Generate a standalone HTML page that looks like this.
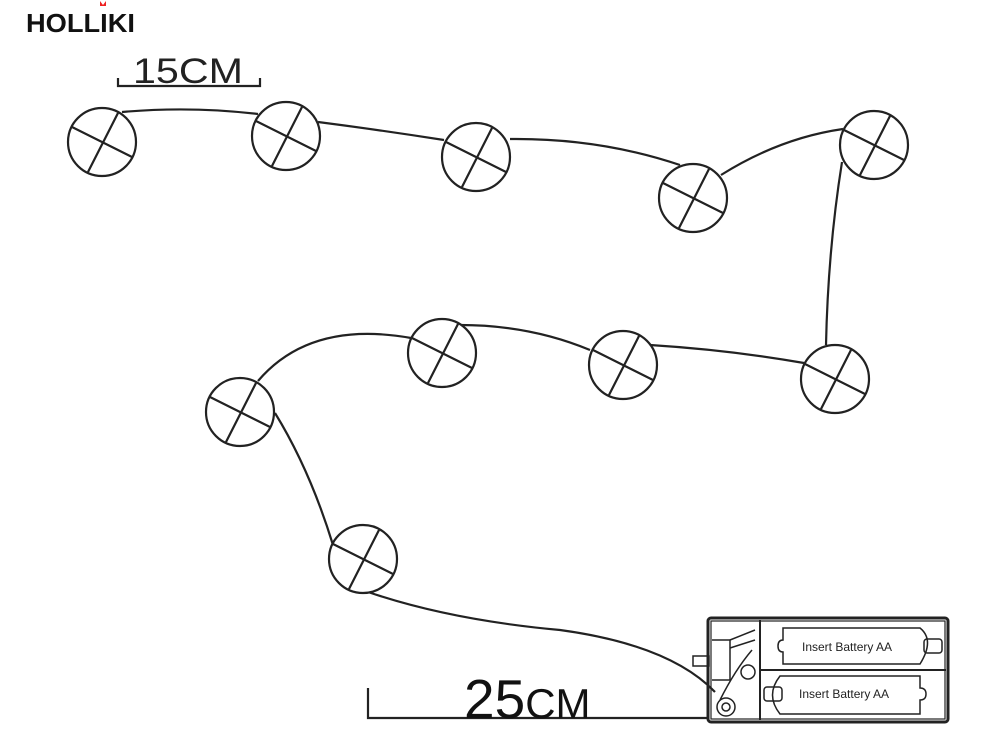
<!DOCTYPE html>
<html><head><meta charset="utf-8"><style>
html,body{margin:0;padding:0;background:#fff;}
svg{display:block;}
</style></head><body>
<svg width="1000" height="752" viewBox="0 0 1000 752" xmlns="http://www.w3.org/2000/svg" font-family="Liberation Sans, sans-serif">
<rect width="1000" height="752" fill="#fff"/>
<text x="26" y="32" font-size="26" font-weight="bold" fill="#111" textLength="109" lengthAdjust="spacingAndGlyphs">HOLLIKI</text>
<path d="M100 1 l3 4 l3 -4 v5 h-6z" fill="#e22"/>
<g stroke="#222" stroke-width="2.2" fill="none">
<path d="M118 78 V86 H260 V78"/>
<path d="M368 688 V718 H708"/>
<path d="M122 112 Q190 106 258 114"/>
<path d="M318 122 Q380 130 444 140"/>
<path d="M510 139 Q600 138 680 165"/>
<path d="M721 175 Q780 138 843 129"/>
<path d="M842 162 Q828 250 826 345"/>
<path d="M804 363 Q730 350 650 345"/>
<path d="M590 350 Q530 325 460 325"/>
<path d="M411 338 Q310 320 258 381"/>
<path d="M275 413 Q310 470 333 545"/>
<path d="M368 592 Q450 620 560 630 Q670 645 715 692"/>
</g>
<g stroke="#222" stroke-width="2.2" fill="#fff">
<g transform="translate(102,142)"><circle r="34"/><path d="M-30 -15 L30 15 M16 -29 L-14 30"/></g>
<g transform="translate(286,136)"><circle r="34"/><path d="M-30 -15 L30 15 M16 -29 L-14 30"/></g>
<g transform="translate(476,157)"><circle r="34"/><path d="M-30 -15 L30 15 M16 -29 L-14 30"/></g>
<g transform="translate(693,198)"><circle r="34"/><path d="M-30 -15 L30 15 M16 -29 L-14 30"/></g>
<g transform="translate(874,145)"><circle r="34"/><path d="M-30 -15 L30 15 M16 -29 L-14 30"/></g>
<g transform="translate(835,379)"><circle r="34"/><path d="M-30 -15 L30 15 M16 -29 L-14 30"/></g>
<g transform="translate(623,365)"><circle r="34"/><path d="M-30 -15 L30 15 M16 -29 L-14 30"/></g>
<g transform="translate(442,353)"><circle r="34"/><path d="M-30 -15 L30 15 M16 -29 L-14 30"/></g>
<g transform="translate(240,412)"><circle r="34"/><path d="M-30 -15 L30 15 M16 -29 L-14 30"/></g>
<g transform="translate(363,559)"><circle r="34"/><path d="M-30 -15 L30 15 M16 -29 L-14 30"/></g>
</g>
<text x="133" y="83" font-size="35" fill="#222" textLength="110" lengthAdjust="spacingAndGlyphs">15CM</text>
<text x="464" y="718" font-size="55" fill="#111">25<tspan font-size="42">CM</tspan></text>
<g stroke="#222" fill="none">
<rect x="708" y="618" width="240" height="104" rx="3" stroke-width="3"/>
<rect x="711" y="621" width="234" height="98" stroke-width="1.2"/>
<line x1="760" y1="620" x2="760" y2="720" stroke-width="2"/>
<line x1="760" y1="670" x2="946" y2="670" stroke-width="2"/>
<path d="M783 628 H920 Q935 640 920 664 H783 V652 Q778 652 778 646 Q778 640 783 640 Z" stroke-width="1.5"/>
<path d="M780 676 H920 V688 Q926 688 926 694 Q926 700 920 700 V714 H780 Q765 695 780 676 Z" stroke-width="1.5"/>
<rect x="924" y="639" width="18" height="14" rx="3" stroke-width="1.5"/>
<rect x="764" y="687" width="18" height="14" rx="3" stroke-width="1.5"/>
<rect x="693" y="656" width="16" height="10" stroke-width="1.5"/>
<path d="M712 640 H730 V680 H712" stroke-width="1.5"/>
<path d="M730 640 L755 630 M730 648 L755 640" stroke-width="1.5"/>
<circle cx="748" cy="672" r="7" stroke-width="1.5"/>
<circle cx="726" cy="707" r="9" stroke-width="1.5"/>
<circle cx="726" cy="707" r="4" stroke-width="1.5"/>
<path d="M720 700 Q735 670 752 650" stroke-width="1.5"/>
</g>
<text x="802" y="651" font-size="12" fill="#222">Insert Battery  AA</text>
<text x="799" y="698" font-size="12" fill="#222">Insert Battery  AA</text>
</svg>
</body></html>
